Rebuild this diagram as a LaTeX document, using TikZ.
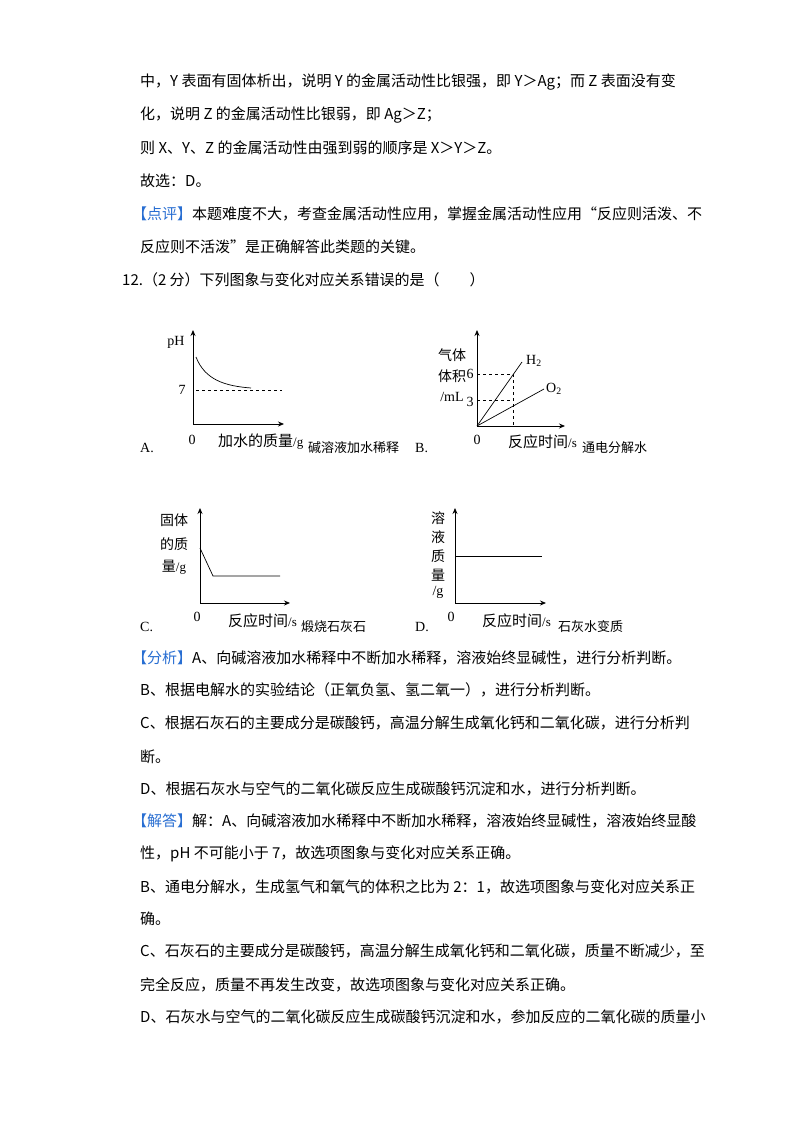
\documentclass[tikz,border=0pt]{standalone}
\usepackage{fontspec}
\usetikzlibrary{arrows.meta}
\setmainfont{Liberation Serif}
\newfontfamily\cjk{Noto Sans CJK SC}
\definecolor{tagblue}{RGB}{40,110,210}
\begin{document}
\begin{tikzpicture}[x=1pt,y=-1pt,
  txtline/.style={anchor=west,inner sep=0pt,font=\cjk\fontsize{15}{15}\selectfont},
  ax/.style={line width=0.8pt,-{Stealth[length=6pt,width=5pt]}},
  lab/.style={inner sep=0pt,font=\cjk\fontsize{14}{14}\selectfont},
  sm/.style={inner sep=0pt,font=\fontsize{14}{14}\selectfont},
  capt/.style={anchor=west,inner sep=0pt,font=\cjk\fontsize{13}{13}\selectfont},
  dsh/.style={dashed,line width=0.5pt}]
\useasboundingbox[fill=white] (0,0) rectangle (800,1132);
\newcommand{\tb}[1]{\textcolor{tagblue}{【#1】}}
\node[txtline] (l1) at (140,82) {中，Y 表面有固体析出，说明 Y 的金属活动性比银强，即 Y＞Ag；而 Z 表面没有变};
\node[txtline] (l2) at (140,115) {化，说明 Z 的金属活动性比银弱，即 Ag＞Z；};
\node[txtline] (l3) at (140,148) {则 X、Y、Z 的金属活动性由强到弱的顺序是 X＞Y＞Z。};
\node[txtline] (l4) at (140,181) {故选：D。};
\node[txtline] (l5) at (132,214) {\tb{点评}本题难度不大，考查金属活动性应用，掌握金属活动性应用“反应则活泼、不};
\node[txtline] (l6) at (140,247) {反应则不活泼”是正确解答此类题的关键。};
\node[txtline] (l7) at (122,280) {12.（2 分）下列图象与变化对应关系错误的是（\qquad）};
% Graph A
\coordinate (ao) at (193,424);
\draw[ax] (ao) -- (193,330);
\draw[ax] (ao) -- (284,424);
\draw[dsh] (196,390) -- (282,390);
\draw[line width=0.7pt] (196,357) .. controls (205,380) and (225,386) .. (251,388);
\node[sm] (aph) at (176,342) {pH};
\node[sm] (a7) at (182,390) {7};
\node[sm] (a0) at (192,440) {0};
\node[anchor=west,inner sep=0pt] (ax) at (218,442) {\cjk\fontsize{15}{15}\selectfont 加水的质量\rmfamily\fontsize{13}{13}\selectfont/g};
\node[capt] (ac) at (308,448) {碱溶液加水稀释};
\node[sm,anchor=west] (aA) at (140,448) {A.};
% Graph B
\coordinate (bo) at (477,426);
\draw[ax] (bo) -- (477,330);
\draw[ax] (bo) -- (565,426);
\draw[dsh] (477,374) -- (513,374) -- (513,426);
\draw[dsh] (477,400) -- (513,400);
\draw[line width=0.7pt] (bo) -- (522,362);
\draw[line width=0.7pt] (bo) -- (544,389);
\node[lab] (b1) at (452,355) {气体};
\node[lab] (b2) at (452,376) {体积};
\node[sm] (b3) at (452,397) {/mL};
\node[sm] (b6) at (470,374) {6};
\node[sm] (b33) at (470,402) {3};
\node[sm,anchor=west] (bh) at (526,361) {H\textsubscript{2}};
\node[sm,anchor=west] (bo2) at (546,389) {O\textsubscript{2}};
\node[sm] (b0) at (477,440) {0};
\node[anchor=west,inner sep=0pt] (bx) at (508,442) {\cjk\fontsize{15}{15}\selectfont 反应时间\rmfamily\fontsize{13}{13}\selectfont/s};
\node[capt] (bc) at (582,448) {通电分解水};
\node[sm,anchor=west] (bB) at (415,448) {B.};
% Graph C
\coordinate (co) at (200,603);
\draw[ax] (co) -- (200,508);
\draw[ax] (co) -- (290,603);
\draw[line width=0.7pt] (200,548) -- (213,576) -- (280,576);
\node[lab] (c1) at (174,520) {固体};
\node[lab] (c2) at (174,544) {的质};
\node[anchor=center,inner sep=0pt] (c3) at (174,567) {\cjk\fontsize{14}{14}\selectfont 量\rmfamily\fontsize{13}{13}\selectfont/g};
\node[sm] (c0) at (197,617) {0};
\node[anchor=west,inner sep=0pt] (cx) at (228,621) {\cjk\fontsize{15}{15}\selectfont 反应时间\rmfamily\fontsize{13}{13}\selectfont/s};
\node[capt] (cc) at (301,627) {煅烧石灰石};
\node[sm,anchor=west] (cC) at (140,627) {C.};
% Graph D
\coordinate (do) at (455,603);
\draw[ax] (do) -- (455,508);
\draw[ax] (do) -- (546,603);
\draw[line width=0.7pt] (455,556) -- (542,556);
\node[lab] (d1) at (438,518) {溶};
\node[lab] (d2) at (438,537) {液};
\node[lab] (d3) at (438,556) {质};
\node[lab] (d4) at (438,575) {量};
\node[sm] (d5) at (438,592) {/g};
\node[sm] (d0) at (451,617) {0};
\node[anchor=west,inner sep=0pt] (dx) at (482,621) {\cjk\fontsize{15}{15}\selectfont 反应时间\rmfamily\fontsize{13}{13}\selectfont/s};
\node[capt] (dc) at (558,627) {石灰水变质};
\node[sm,anchor=west] (dD) at (415,627) {D.};
% Analysis
\node[txtline] (m1) at (132,658) {\tb{分析}A、向碱溶液加水稀释中不断加水稀释，溶液始终显碱性，进行分析判断。};
\node[txtline] (m2) at (140,690) {B、根据电解水的实验结论（正氧负氢、氢二氧一），进行分析判断。};
\node[txtline] (m3) at (140,723) {C、根据石灰石的主要成分是碳酸钙，高温分解生成氧化钙和二氧化碳，进行分析判};
\node[txtline] (m4) at (140,757) {断。};
\node[txtline] (m5) at (140,789) {D、根据石灰水与空气的二氧化碳反应生成碳酸钙沉淀和水，进行分析判断。};
\node[txtline] (m6) at (132,821) {\tb{解答}解：A、向碱溶液加水稀释中不断加水稀释，溶液始终显碱性，溶液始终显酸};
\node[txtline] (m7) at (140,854) {性，pH 不可能小于 7，故选项图象与变化对应关系正确。};
\node[txtline] (m8) at (140,887) {B、通电分解水，生成氢气和氧气的体积之比为 2：1，故选项图象与变化对应关系正};
\node[txtline] (m9) at (140,919) {确。};
\node[txtline] (m10) at (140,951) {C、石灰石的主要成分是碳酸钙，高温分解生成氧化钙和二氧化碳，质量不断减少，至};
\node[txtline] (m11) at (140,985) {完全反应，质量不再发生改变，故选项图象与变化对应关系正确。};
\node[txtline] (m12) at (140,1017) {D、石灰水与空气的二氧化碳反应生成碳酸钙沉淀和水，参加反应的二氧化碳的质量小};
\end{tikzpicture}
\end{document}
